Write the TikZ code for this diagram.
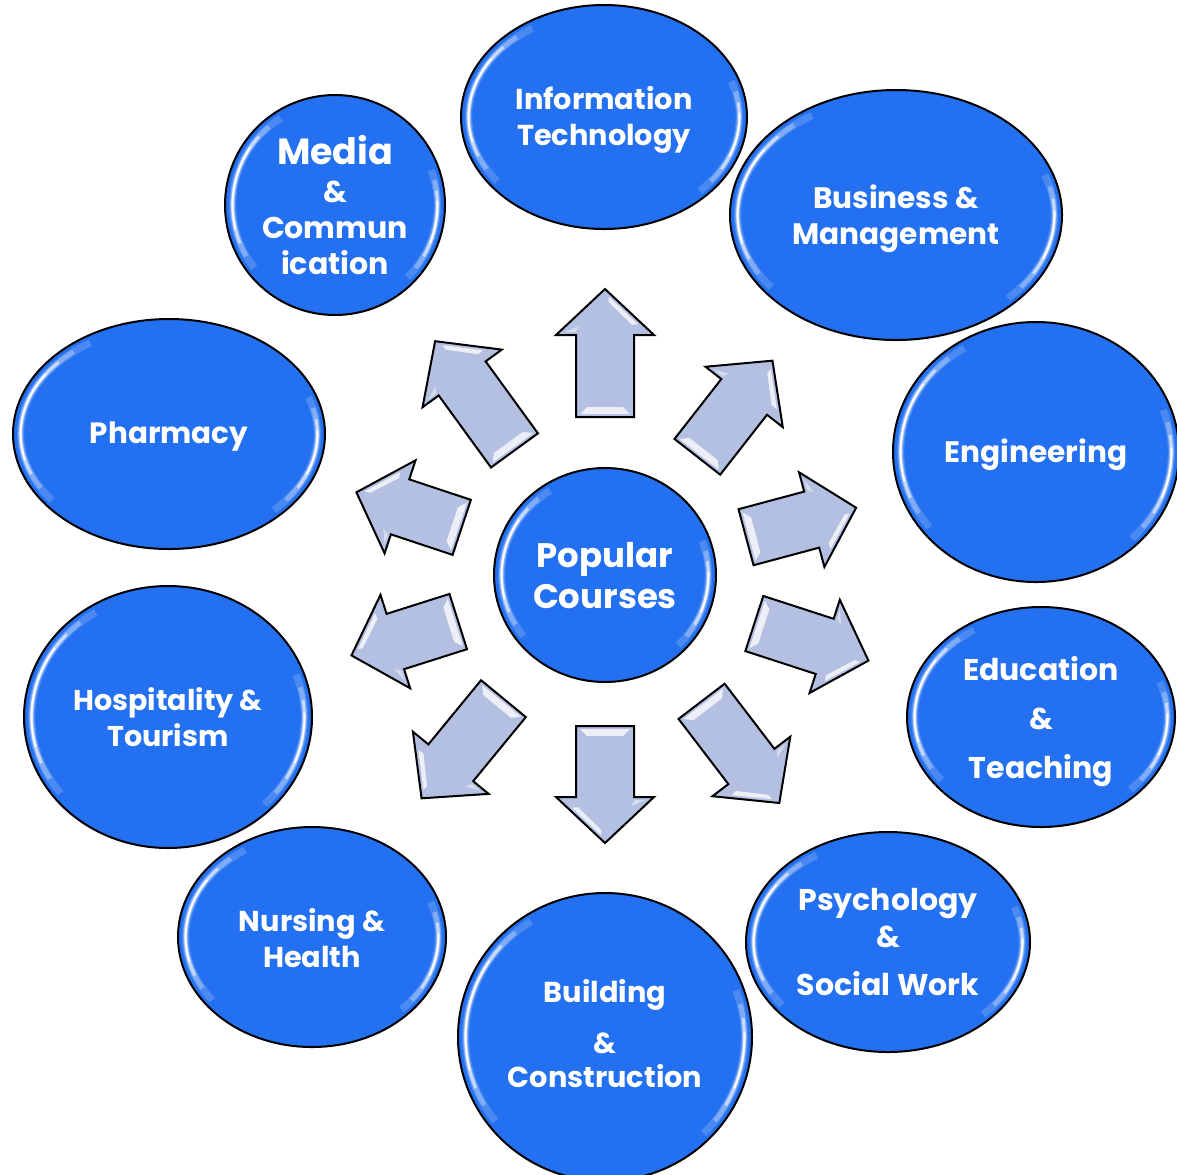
\documentclass[tikz,border=0pt]{standalone}
\usepackage{fontspec}
\setmainfont{Poppins}
\usetikzlibrary{shapes.geometric,calc}
\definecolor{bub}{RGB}{35,112,240}
\definecolor{arw}{RGB}{180,192,225}
\newcommand\shine{%
  \pgfpointdiff{\pgfpointanchor{path picture bounding box}{center}}{\pgfpointanchor{path picture bounding box}{north east}}%
  \pgfgetlastxy{\rxx}{\ryy}%
  \pgfmathsetlengthmacro\rA{\rxx-3.8pt}%
  \pgfmathsetlengthmacro\rB{\ryy-3.8pt}%
  \coordinate (shc) at (path picture bounding box.center);
  \foreach \a/\b/\w/\o in {122/218/3.6pt/0.18, 130/210/2.4pt/0.3, 138/202/1.5pt/0.55, 146/194/0.9pt/0.95, -45/20/3.6pt/0.18, -38/14/2.4pt/0.3, -30/8/1.5pt/0.55, -22/2/0.9pt/0.95}
    \draw[white, opacity=\o, line width=\w] ($(shc)+(\a:{\rA} and {\rB})$) arc[start angle=\a, end angle=\b, x radius=\rA, y radius=\rB];
}
\newcommand\fs[1]{\fontsize{#1}{18}\selectfont}
\tikzset{
  bubble/.style={ellipse, draw=black, line width=1pt, fill=bub, inner sep=0pt, path picture={\shine}},
  lbl/.style={text=white, inner sep=0pt, align=center, font=\bfseries\fontsize{14.5}{18}\selectfont},
  arrowbody/.style={draw=black, line width=1pt, fill=arw, line join=miter},
  bevel/.style={fill=white, opacity=0.75},
}
\newcommand\barrow[3]{%
  \begin{scope}[shift={(pc.center)}, rotate=#1]
    \pgfmathsetmacro\ra{#2}\pgfmathsetmacro\rb{#2+#3-46}\pgfmathsetmacro\rc{#2+#3}
    \draw[arrowbody] (\ra,29) -- (\rb,29) -- (\rb,49) -- (\rc,0) -- (\rb,-49) -- (\rb,-29) -- (\ra,-29) -- cycle;
    \fill[bevel] (\ra+3,25) -- (\ra+3,-25) -- (\ra+10,-18) -- (\ra+10,18) -- cycle;
    \fill[bevel] (\rc-7.7,3.8) -- (\rc-35.3,33.2) -- (\rc-35.8,27) -- (\rc-13,3.6) -- cycle;
    \fill[bevel, opacity=0.45] (\rb+3,-40) -- (\rb+3,-30) -- (\rb+9,-26) -- cycle;
  \end{scope}}
\begin{document}
\begin{tikzpicture}[x=0.5pt, y=-0.5pt]
\useasboundingbox (0,0) rectangle (1177,1174);
% bubbles
\node[bubble, minimum width=111pt, minimum height=107pt] (pc) at (605,575) {};
\node[bubble, minimum width=143pt, minimum height=112pt] (it) at (604,117) {};
\node[bubble, minimum width=166pt, minimum height=125pt] (bm) at (896,215) {};
\node[bubble, minimum width=143pt, minimum height=130pt] (en) at (1036,452) {};
\node[bubble, minimum width=134pt, minimum height=110pt] (ed) at (1041,717) {};
\node[bubble, minimum width=142pt, minimum height=110pt] (ps) at (888,942) {};
\node[bubble, minimum width=147pt, minimum height=144pt] (bc) at (605,1037) {};
\node[bubble, minimum width=134pt, minimum height=110pt] (nh) at (312,937) {};
\node[bubble, minimum width=144pt, minimum height=131pt] (ht) at (168,717) {};
\node[bubble, minimum width=156pt, minimum height=115pt] (ph) at (169,434) {};
\node[bubble, minimum width=110pt, minimum height=110pt] (mc) at (335,205) {};
% labels
\node[lbl, font=\bfseries\fontsize{17}{20.5}\selectfont] (pct) at ($(pc)+(0,1)$) {Popular\\Courses};
\node[lbl, font=\bfseries\fs{14.4}] (itt) at ($(it)+(0,3)$) {Information\\Technology};
\node[lbl, font=\bfseries\fs{14.8}] (bmt) at ($(bm)+(0,3.5)$) {Business \&\\Management};
\node[lbl, font=\bfseries\fs{14.8}] (ent) at ($(en)+(0,3)$) {Engineering};
\node[lbl, font=\bfseries\fs{15}] (edt) at ($(ed)+(0,5)$) {Education\\[6.5pt]\&\\[6.5pt]Teaching};
\node[lbl, font=\bfseries\fs{15}] (pst) at ($(ps)+(0,0)$) {Psychology\\[0.5pt]\&\\[6pt]Social Work};
\node[lbl, font=\bfseries\fs{14.4}] (bct) at ($(bc)+(0,-3.5)$) {Building\\[7.5pt]\&\\[-1pt]Construction};
\node[lbl, font=\bfseries\fs{14.4}] (nht) at ($(nh)+(0,1)$) {Nursing \&\\Health};
\node[lbl, font=\bfseries\fs{14.3}] (htt) at ($(ht)+(0,0.5)$) {Hospitality \&\\Tourism};
\node[lbl, font=\bfseries\fs{14.7}] (pht) at ($(ph)+(0,3)$) {Pharmacy};
\node[lbl, font=\bfseries\fs{15}] (mct) at ($(mc)+(0,0)$) {{\fontsize{18.2}{20}\selectfont Media}\\[1pt]\&\\Commun\\ication};
% arrows
\barrow{90}{158}{128}
\barrow{52}{150}{122}
\barrow{15}{146}{114}
\barrow{-18}{157}{120}
\barrow{-52.6}{159}{128}
\barrow{-90}{151}{117}
\barrow{230.6}{160}{129}
\barrow{197.6}{154}{112}
\barrow{161.6}{151}{111}
\barrow{126}{154}{135}
\end{tikzpicture}
\end{document}
